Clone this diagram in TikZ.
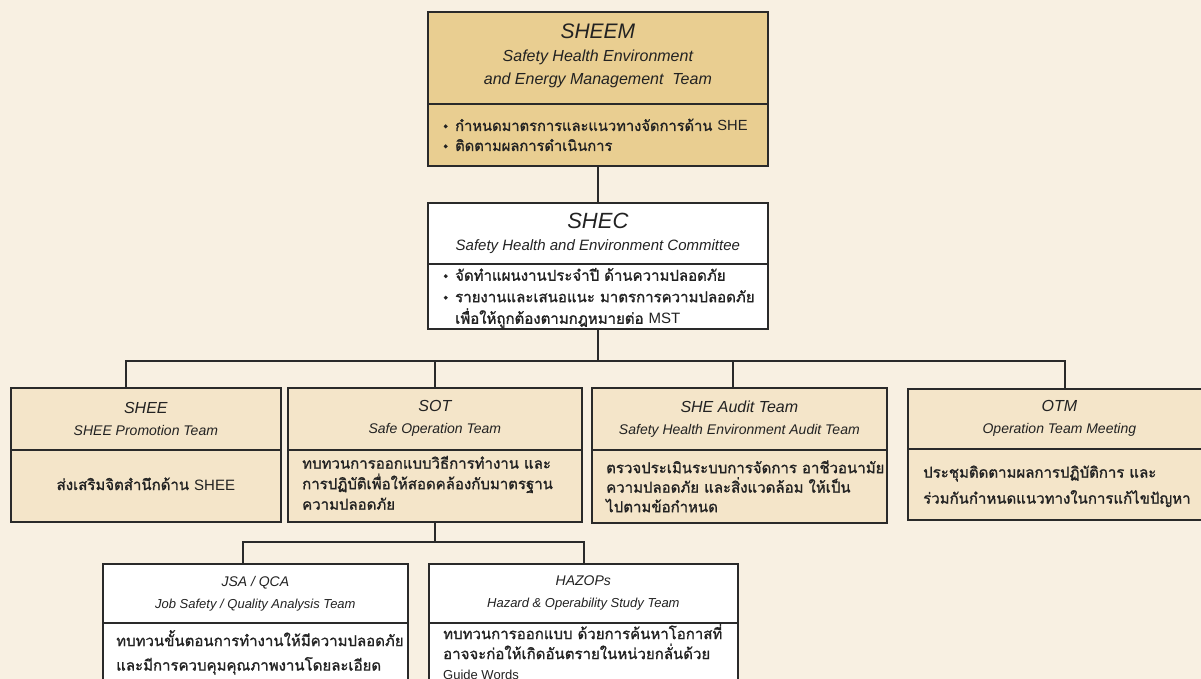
\documentclass[tikz,border=0pt]{standalone}
\usepackage{fontspec}
\setmainfont{Liberation Sans}
\newfontfamily\thai[Script=Thai, FakeBold=1.3]{Loma}
\definecolor{bg}{HTML}{F8F0E2}
\definecolor{gold}{HTML}{E9CE91}
\definecolor{sand}{HTML}{F4E5C9}
\definecolor{edge}{HTML}{2A2A2A}
\definecolor{ink}{HTML}{222222}
\tikzset{
  box/.style={draw=edge, line width=1.7pt, inner sep=0pt, anchor=north west, align=center, text=ink},
  hdr/.style={box, font=\itshape\fontsize{14}{22}\selectfont},
  bodytext/.style={anchor=west, align=left, inner sep=0pt, text=ink, font=\thai\fontsize{15}{20.5}\selectfont},
  link/.style={draw=edge, line width=1.7pt, line join=miter},
}
\newcommand{\ttl}[2]{{\fontsize{#1}{#1}\selectfont #2}}
\newcommand{\bul}{\makebox[12pt][l]{\fontsize{11}{11}\selectfont\raisebox{1pt}{•}}}
\begin{document}
\begin{tikzpicture}[x=1pt,y=-1pt]
\useasboundingbox (0,0) rectangle (1201,679);
\clip (0,0) rectangle (1201,679);
\fill[bg] (0,0) rectangle (1201,679);

% SHEEM
\node[box, fill=gold, minimum width=340pt, minimum height=92pt, font=\itshape\fontsize{16}{23}\selectfont] (sheemH) at (427,11)
  {\ttl{21}{SHEEM}\\[0pt] Safety Health Environment\\ and Energy Management\ \ Team\\[-16pt]\mbox{}};
\node[box, fill=gold, minimum width=340pt, minimum height=62pt] (sheemB) at (427,103) {};
\node[bodytext, font=\thai\fontsize{14.7}{20}\selectfont] (sheemT) at ([xshift=16pt]sheemB.west)
  {\bul{\thai กำหนดมาตรการและแนวทางจัดการด้าน} {\rmfamily SHE}\\ \bul{\thai ติดตามผลการดำเนินการ}};

% SHEC
\node[box, fill=white, minimum width=340pt, minimum height=61pt, font=\itshape\fontsize{15}{22}\selectfont] (shecH) at (427,202)
  {\ttl{22}{SHEC}\\ Safety Health and Environment Committee};
\node[box, fill=white, minimum width=340pt, minimum height=65pt] (shecB) at (427,263) {};
\node[bodytext, font=\thai\fontsize{15}{21.5}\selectfont] (shecT) at ([xshift=16pt,yshift=-1.5pt]shecB.west)
  {\bul{\thai จัดทำแผนงานประจำปี ด้านความปลอดภัย}\\
   \bul{\thai รายงานและเสนอแนะ มาตรการความปลอดภัย}\\
   \hspace*{12pt}{\thai เพื่อให้ถูกต้องตามกฎหมายต่อ} {\rmfamily MST}};

% level 2
\node[hdr, fill=sand, minimum width=270pt, minimum height=62pt] (sheeH) at (10,387)
  {\ttl{16}{SHEE}\\ SHEE Promotion Team};
\node[box, fill=sand, minimum width=270pt, minimum height=72pt] (sheeB) at (10,449) {};
\node[bodytext, anchor=center] (sheeT) at ([yshift=2pt]sheeB.center)
  {{\thai ส่งเสริมจิตสำนึกด้าน} {\rmfamily SHEE}};

\node[hdr, fill=sand, minimum width=294pt, minimum height=62pt] (sotH) at (287,387)
  {\ttl{16}{SOT}\\ Safe Operation Team};
\node[box, fill=sand, minimum width=294pt, minimum height=72pt] (sotB) at (287,449) {};
\node[bodytext] (sotT) at ([xshift=15pt,yshift=3pt]sotB.west)
  {ทบทวนการออกแบบวิธีการทำงาน และ\\ การปฏิบัติเพื่อให้สอดคล้องกับมาตรฐาน\\ ความปลอดภัย};

\node[hdr, fill=sand, minimum width=295pt, minimum height=62pt] (audH) at (591,387)
  {\ttl{16}{SHE Audit Team}\\ Safety Health Environment Audit Team};
\node[box, fill=sand, minimum width=295pt, minimum height=73pt] (audB) at (591,449) {};
\node[bodytext, font=\thai\fontsize{15}{19.5}\selectfont] (audT) at ([xshift=15pt,yshift=0pt]audB.west)
  {ตรวจประเมินระบบการจัดการ อาชีวอนามัย\\ ความปลอดภัย และสิ่งแวดล้อม ให้เป็น\\ ไปตามข้อกำหนด};

\node[hdr, fill=sand, minimum width=303pt, minimum height=60pt] (otmH) at (907,388)
  {\ttl{16}{OTM}\\ Operation Team Meeting};
\node[box, fill=sand, minimum width=303pt, minimum height=71pt] (otmB) at (907,448) {};
\node[bodytext, font=\thai\fontsize{15}{26}\selectfont] (otmT) at ([xshift=16pt,yshift=-2pt]otmB.west)
  {ประชุมติดตามผลการปฏิบัติการ และ\\ ร่วมกันกำหนดแนวทางในการแก้ไขปัญหา};

% level 3
\node[box, fill=white, minimum width=305pt, minimum height=59pt, font=\itshape\fontsize{13}{22}\selectfont] (jsaH) at (102,563)
  {\ttl{14}{JSA / QCA}\\ Job Safety / Quality Analysis Team};
\node[box, fill=white, minimum width=305pt, minimum height=90pt] (jsaB) at (102,622) {};
\node[bodytext, anchor=north west, font=\thai\fontsize{15}{24.5}\selectfont] (jsaT) at ([xshift=14pt,yshift=-8pt]jsaB.north west)
  {ทบทวนขั้นตอนการทำงานให้มีความปลอดภัย\\ และมีการควบคุมคุณภาพงานโดยละเอียด};

\node[box, fill=white, minimum width=309pt, minimum height=59pt, font=\itshape\fontsize{13}{22}\selectfont] (hazH) at (428,563)
  {\ttl{14}{HAZOPs}\\ Hazard \& Operability Study Team};
\node[box, fill=white, minimum width=309pt, minimum height=90pt] (hazB) at (428,622) {};
\node[bodytext, anchor=north west, font=\thai\fontsize{15}{20}\selectfont] (hazT) at ([xshift=15pt,yshift=-1.5pt]hazB.north west)
  {ทบทวนการออกแบบ ด้วยการค้นหาโอกาสที่\\ อาจจะก่อให้เกิดอันตรายในหน่วยกลั่นด้วย\\ {\rmfamily\fontsize{13}{13}\selectfont Guide Words}};

% connectors
\coordinate (busL) at (126,361);
\coordinate (busR) at (1065,361);
\coordinate (busS) at (435,361);
\coordinate (busA) at (733,361);
\coordinate (subL) at (243,542);
\coordinate (subR) at (584,542);
\draw[link] (sheemB.south) -- (shecH.north);
\draw[link] (shecB.south) -- (shecB.south |- busL);
\draw[link] (busL |- sheeH.north) -- (busL) -- (busR) -- (busR |- otmH.north);
\draw[link] (busS) -- (busS |- sotH.north);
\draw[link] (busA) -- (busA |- audH.north);
\draw[link] (sotB.south) -- (sotB.south |- subL);
\draw[link] (subL |- jsaH.north) -- (subL) -- (subR) -- (subR |- hazH.north);
\end{tikzpicture}
\end{document}
